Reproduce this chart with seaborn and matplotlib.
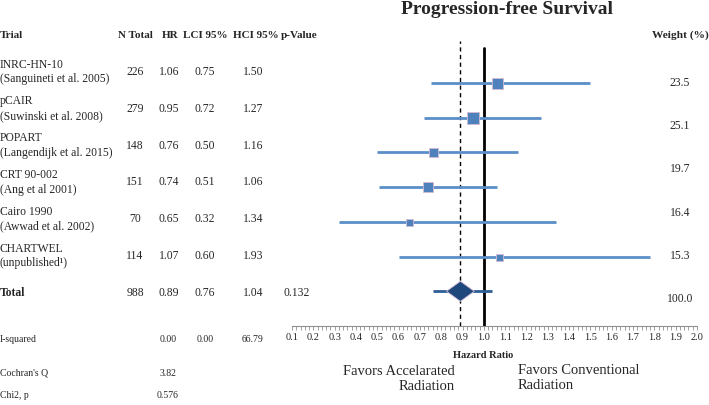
import matplotlib
matplotlib.use("Agg")
import matplotlib.pyplot as plt
import seaborn as sns
import numpy as np
import pandas as pd

# ---------------- data ----------------
trials = ["INRC-HN-10\n(Sanguineti et al. 2005)", "pCAIR\n(Suwinski et al. 2008)",
          "POPART\n(Langendijk et al. 2015)", "CRT 90-002\n(Ang et al 2001)",
          "Cairo 1990\n(Awwad et al. 2002)", "CHARTWEL\n(unpublished\u00b9)"]
n_total = [226, 279, 148, 151, 70, 114]
hr = [1.06, 0.95, 0.76, 0.74, 0.65, 1.07]
lci = [0.75, 0.72, 0.50, 0.51, 0.32, 0.60]
hci = [1.50, 1.27, 1.16, 1.06, 1.34, 1.93]
hci_drawn = [1.50, 1.27, 1.16, 1.06, 1.34, 1.78]   # upper end of whisker as drawn
weights = ["23.5", "25.1", "19.7", "16.4", "15.3", "100.0"]
total_n = 988
total_hr = 0.89
total_lci = 0.76
total_hci = 1.04
total_p = "0.132"
i_squared = ["0.00", "0.00", "66.79"]
cochran_q = "3.82"
chi2_p = "0.576"
xticks = [round(0.1 * k, 1) for k in range(1, 21)]

# ---------------- style ----------------
W, H = 709, 405
marker_px = [11, 12, 9, 10, 7, 7]
line_col = "#5B8DC9"
mark_col = "#4F81BD"
edge_col = "#D3BCD3"
dia_col = "#1F497D"
serif = ["Liberation Serif", "DejaVu Serif"]
fs_tab = 8.4

sns.set_theme(style="white")
plt.rcParams["font.family"] = serif

fig = plt.figure(figsize=(W / 100, H / 100), dpi=100)

def fx(x):
    return x / W

def fy(y):
    return 1 - y / H

# forest axes: x 0.1 -> px 292, 2.0 -> px 697 ; y from px 40 to axis at 326
ax = fig.add_axes([fx(292), fy(326), fx(697) - fx(292), (326 - 40) / H])
ax.set_xlim(0.1, 2.0)
ax.set_ylim(7.0, -1.24)

df = pd.DataFrame({"trial": trials, "hr": hr, "lci": lci, "hci": hci_drawn,
                   "row": np.arange(len(trials))})

ax.axvline(1.0, ymin=0, ymax=(7.0 - (-1.0)) / 8.24, color="black", lw=2.0, zorder=1)
ax.axvline(total_hr, ymin=0, ymax=(7.0 - (-1.2)) / 8.24, color="black", lw=1.0,
           ls=(0, (3, 2.5)), zorder=1)

ax.hlines(df["row"], df["lci"], df["hci"], color=line_col, lw=2.0, zorder=2)
for i, r in df.iterrows():
    sns.scatterplot(x=[r["hr"]], y=[r["row"]], marker="s", s=(marker_px[i] * 0.72) ** 2,
                    color=mark_col, edgecolor=edge_col, linewidth=0.6, ax=ax, zorder=3,
                    legend=False)

ax.hlines([6], [total_lci], [total_hci], color="#2E5E96", lw=2.0, zorder=2)
dia = plt.Polygon([[total_hr - 0.065, 6], [total_hr, 6 - 0.29], [total_hr + 0.065, 6],
                   [total_hr, 6 + 0.29]], closed=True, facecolor=dia_col,
                  edgecolor=edge_col, lw=0.6, zorder=4)
ax.add_patch(dia)

for s in ["top", "right", "left"]:
    ax.spines[s].set_visible(False)
ax.spines["bottom"].set_color("#909090")
ax.spines["bottom"].set_linewidth(0.8)
ax.set_yticks([])
ax.set_xticks(xticks)
ax.set_xticklabels([f"{t:.1f}" for t in xticks], fontsize=7.5)
ax.set_xticks(np.arange(0.1, 2.001, 0.02), minor=True)
ax.tick_params(axis="x", which="both", direction="out", color="#909090", width=0.6,
               bottom=True, pad=2)
ax.tick_params(axis="x", which="major", length=3)
ax.tick_params(axis="x", which="minor", length=3)
ax.set_xlabel("")
ax.set_ylabel("")
ax.patch.set_alpha(0)

# ---------------- text ----------------
fig.text(fx(507), fy(9), "Progression-free Survival", ha="center", va="center",
         fontsize=14, fontweight="bold")

hdr_y = 35
hdr = [("Trial", 0, "left"), ("N Total", 135, "center"), ("HR", 170, "center"),
       ("LCI 95%", 205, "center"), ("HCI 95%", 256, "center"), ("p-Value", 299, "center")]
for t, x, ha in hdr:
    fig.text(fx(x), fy(hdr_y), t, ha=ha, va="center", fontsize=8, fontweight="bold")
fig.text(fx(709), fy(hdr_y), "Weight (%)", ha="right", va="center", fontsize=8.2,
         fontweight="bold")

col_x = [135, 169, 205, 253]
for i in range(len(trials)):
    y = 72 + i * 36.8
    fig.text(fx(0), fy(y), trials[i], ha="left", va="center", fontsize=fs_tab,
             linespacing=1.3)
    vals = [str(n_total[i]), f"{hr[i]:.2f}", f"{lci[i]:.2f}", f"{hci[i]:.2f}"]
    for v, x in zip(vals, col_x):
        fig.text(fx(x), fy(y), v, ha="center", va="center", fontsize=fs_tab)

y_tot = 72 + 6 * 36.8
fig.text(fx(0), fy(y_tot), "Total", ha="left", va="center", fontsize=fs_tab,
         fontweight="bold")
for v, x in zip([str(total_n), f"{total_hr:.2f}", f"{total_lci:.2f}", f"{total_hci:.2f}"], col_x):
    fig.text(fx(x), fy(y_tot), v, ha="center", va="center", fontsize=fs_tab)
fig.text(fx(283), fy(y_tot), total_p, ha="left", va="center", fontsize=fs_tab)

for i, w in enumerate(weights):
    fig.text(fx(680), fy(83 + i * 43.2), w, ha="center", va="center", fontsize=fs_tab)

fs_s = 7
fig.text(fx(0), fy(340), "I-squared", ha="left", va="center", fontsize=fs_s)
for v, x in zip(i_squared, [168, 205, 253]):
    fig.text(fx(x), fy(340), v, ha="center", va="center", fontsize=fs_s)
fig.text(fx(0), fy(373), "Cochran's Q", ha="left", va="center", fontsize=fs_s)
fig.text(fx(168), fy(373), cochran_q, ha="center", va="center", fontsize=fs_s)
fig.text(fx(0), fy(396), "Chi2, p", ha="left", va="center", fontsize=fs_s)
fig.text(fx(168), fy(396), chi2_p, ha="center", va="center", fontsize=fs_s)

fig.text(fx(483), fy(356), "Hazard Ratio", ha="center", va="center", fontsize=7.5,
         fontweight="bold")
fig.text(fx(455), fy(379), "Favors Accelarated\nRadiation", ha="right", va="center",
         fontsize=10.5, multialignment="right", linespacing=1.2)
fig.text(fx(518), fy(378), "Favors Conventional\nRadiation", ha="left", va="center",
         fontsize=10.5, multialignment="left", linespacing=1.2)

fig.savefig("out.png", dpi=100)
